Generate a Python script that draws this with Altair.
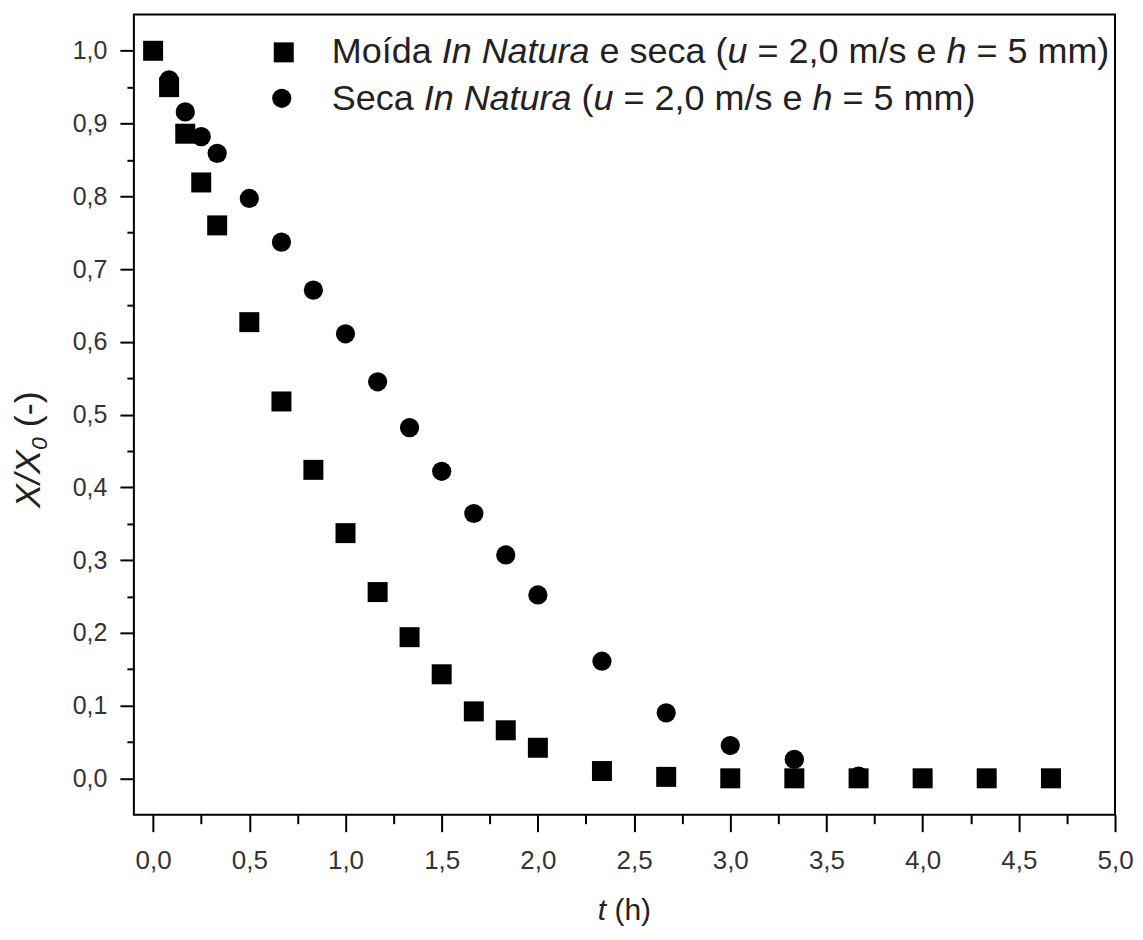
import altair as alt
import pandas as pd

# ---- data ----
t_moida = [0.0, 0.083, 0.167, 0.25, 0.333, 0.5, 0.667, 0.833, 1.0, 1.167, 1.333, 1.5,
           1.667, 1.833, 2.0, 2.333, 2.667, 3.0, 3.333, 3.667, 4.0, 4.333, 4.667]
x_moida = [1.0, 0.95, 0.886, 0.819, 0.76, 0.627, 0.518, 0.424, 0.337, 0.256, 0.194, 0.143,
           0.092, 0.066, 0.042, 0.010, 0.002, 0.0, 0.0, 0.0, 0.0, 0.0, 0.0]

t_seca = [0.083, 0.167, 0.25, 0.333, 0.5, 0.667, 0.833, 1.0, 1.167, 1.333, 1.5,
          1.667, 1.833, 2.0, 2.333, 2.667, 3.0, 3.333, 3.667, 4.0, 4.333, 4.667]
x_seca = [0.96, 0.916, 0.882, 0.859, 0.797, 0.737, 0.671, 0.611, 0.545, 0.482, 0.422,
          0.364, 0.307, 0.252, 0.161, 0.090, 0.045, 0.026, 0.003, 0.0, 0.0, 0.0]

x_ticks = [i * 0.25 for i in range(21)]
y_ticks = [i * 0.05 for i in range(21)]

legend_rows = [
    [("Moída ", False), ("In Natura", True), (" e seca (", False), ("u", True),
     (" = 2,0 m/s e ", False), ("h", True), (" = 5 mm)", False)],
    [("Seca ", False), ("In Natura", True), (" (", False), ("u", True),
     (" = 2,0 m/s e ", False), ("h", True), (" = 5 mm)", False)],
]

# ---- layout ----
W, H = 982, 801
FONT = "Liberation Sans"
PAD_L, PAD_T = 126, 6

ARIAL = {' ': 278, '(': 333, ')': 333, ',': 278, '/': 278, '0': 556, '2': 556, '5': 556,
         '=': 584, 'I': 278, 'M': 833, 'N': 722, 'S': 667, 'a': 556, 'c': 500, 'd': 556,
         'e': 556, 'h': 556, 'í': 278, 'm': 833, 'n': 556, 'o': 556, 'r': 333, 's': 500,
         't': 278, 'u': 556, 'X': 667, '-': 333}


def text_width(s, size):
    return sum(ARIAL.get(c, 556) for c in s) / 1000.0 * size


def seg_layers(segs, x0, y0, size, color="#222222", angle=0):
    layers = []
    pos = 0.0
    for text, italic in segs:
        lead = len(text) - len(text.lstrip(" "))
        core = text.strip(" ")
        off = pos + lead * 0.278 * size
        if angle == 0:
            px, py = x0 + off, y0
        else:
            px, py = x0, y0 - off
        kw = dict(font=FONT, fontSize=size, color=color, align="left", baseline="alphabetic")
        if italic:
            kw["fontStyle"] = "italic"
        if angle:
            kw["angle"] = angle
        layers.append(
            alt.Chart(alt.Data(values=[{}])).mark_text(**kw).encode(
                x=alt.value(px), y=alt.value(py), text=alt.value(core)
            )
        )
        pos += text_width(text, size)
    return layers


xscale = alt.Scale(domain=[-0.1, 5.0], nice=False, zero=False)
yscale = alt.Scale(domain=[-0.05, 1.05], nice=False, zero=False)

x_major = "abs(datum.value*2 - round(datum.value*2)) < 0.001"
y_major = "abs(datum.value*10 - round(datum.value*10)) < 0.001"

xaxis = alt.Axis(
    values=x_ticks, title=None, domain=False, grid=False,
    tickColor="black", tickWidth=2,
    tickSize={"condition": {"test": x_major, "value": 17}, "value": 9},
    labelExpr=f"({x_major}) ? replace(format(datum.value, '.1f'), '.', ',') : ''",
    labelFont=FONT, labelFontSize=26, labelColor="#333333", labelPadding=16,
    labelOverlap=False, labelFlush=False,
)
yaxis = alt.Axis(
    values=y_ticks, title=None, domain=False, grid=False,
    tickColor="black", tickWidth=2,
    tickSize={"condition": {"test": y_major, "value": 14}, "value": 7},
    labelExpr=f"({y_major}) ? replace(format(datum.value, '.1f'), '.', ',') : ''",
    labelFont=FONT, labelFontSize=25, labelColor="#333333", labelPadding=13,
    labelOverlap=False, labelFlush=False,
)

df_m = pd.DataFrame({"t": t_moida, "X": x_moida})
df_s = pd.DataFrame({"t": t_seca, "X": x_seca})

circles = alt.Chart(df_s).mark_point(
    shape="circle", filled=True, size=370, color="black", opacity=1, strokeWidth=0
).encode(
    x=alt.X("t:Q", scale=xscale, axis=xaxis),
    y=alt.Y("X:Q", scale=yscale, axis=yaxis),
)
squares = alt.Chart(df_m).mark_point(
    shape="square", filled=True, size=400, color="black", opacity=1, strokeWidth=0
).encode(
    x=alt.X("t:Q", scale=xscale, axis=xaxis),
    y=alt.Y("X:Q", scale=yscale, axis=yaxis),
)

one = alt.Data(values=[{}])
leg_sq = alt.Chart(one).mark_point(
    shape="square", filled=True, size=400, color="black", opacity=1, strokeWidth=0
).encode(x=alt.value(150), y=alt.value(38))
leg_ci = alt.Chart(one).mark_point(
    shape="circle", filled=True, size=370, color="black", opacity=1, strokeWidth=0
).encode(x=alt.value(148), y=alt.value(84))

layers = [circles, squares, leg_sq, leg_ci]
LEG_SIZE = 36
layers += seg_layers(legend_rows[0], 198, 49, LEG_SIZE)
layers += seg_layers(legend_rows[1], 198, 96, LEG_SIZE)

# x title: "t (h)"
xt_size = 30
xt_w = text_width("t (h)", xt_size)
layers += seg_layers([("t", True), (" (h)", False)], 491 - xt_w / 2, 906, xt_size)

# y title: "X/X0 (-)" rotated
yt_size = 36
yx0, yy0 = -94, 494
layers += seg_layers([("X/X", True)], yx0, yy0, yt_size, angle=270)
w1 = text_width("X/X", yt_size)
layers += seg_layers([("0", True)], yx0 + 7, yy0 - w1, 23, angle=270)
w2 = w1 + text_width("0", 23)
layers += seg_layers([(" (-)", False)], yx0, yy0 - w2, yt_size, angle=270)

chart = alt.layer(*layers).properties(
    width=W, height=H,
    autosize=alt.AutoSizeParams(type="none"),
    padding={"left": PAD_L, "top": PAD_T, "right": 20, "bottom": 114},
    background="white",
).configure_view(stroke="black", strokeWidth=2)

chart.save("out.html", embed_options={"renderer": "svg", "actions": False})
